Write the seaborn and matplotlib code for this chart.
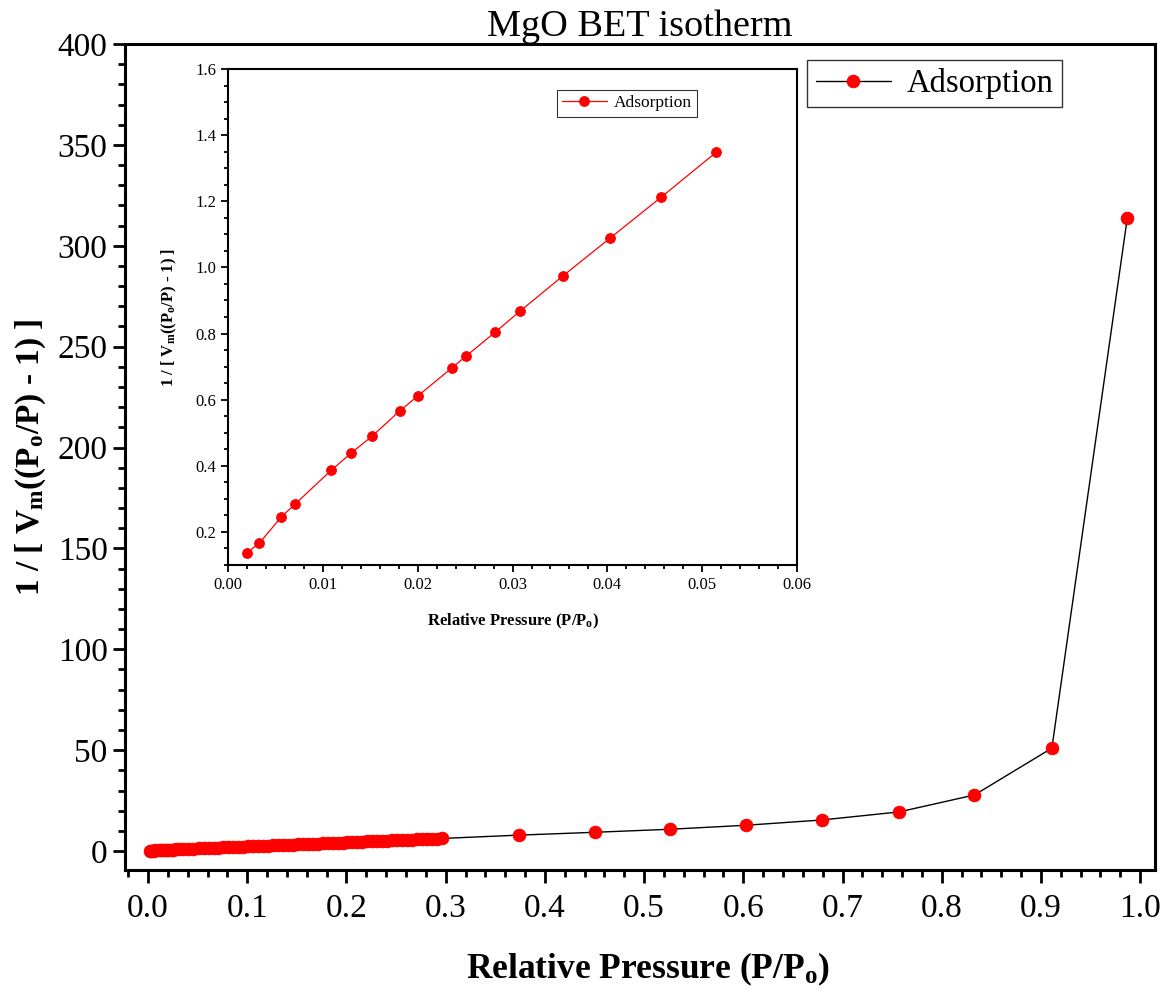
import matplotlib
matplotlib.use("Agg")
import matplotlib.pyplot as plt
import seaborn as sns
import pandas as pd
from matplotlib.ticker import MultipleLocator, FormatStrFormatter

# ---------------- data ----------------
inset_x = [0.0020, 0.0033, 0.0056, 0.0071, 0.0109, 0.0130, 0.0152, 0.0181, 0.0200,
           0.0236, 0.0251, 0.0282, 0.0308, 0.0353, 0.0403, 0.0457, 0.0515]
inset_y = [0.137, 0.166, 0.245, 0.285, 0.387, 0.439, 0.490, 0.566, 0.611,
           0.696, 0.732, 0.805, 0.868, 0.974, 1.089, 1.213, 1.349]

dense_x = [0.056, 0.061, 0.066, 0.071, 0.076, 0.081, 0.086, 0.091, 0.096, 0.101,
           0.106, 0.111, 0.116, 0.121, 0.126, 0.131, 0.136, 0.141, 0.146, 0.151,
           0.156, 0.161, 0.166, 0.171, 0.176, 0.181, 0.186, 0.191, 0.196, 0.201,
           0.206, 0.211, 0.216, 0.221, 0.226, 0.231, 0.236, 0.241, 0.246, 0.251,
           0.256, 0.261, 0.266, 0.271, 0.276, 0.281, 0.286, 0.291, 0.296]
dense_y = [1.44, 1.54, 1.64, 1.74, 1.84, 1.94, 2.04, 2.14, 2.24, 2.34,
           2.44, 2.54, 2.64, 2.74, 2.84, 2.94, 3.04, 3.14, 3.24, 3.34,
           3.44, 3.54, 3.64, 3.74, 3.84, 3.94, 4.04, 4.14, 4.24, 4.34,
           4.44, 4.54, 4.64, 4.74, 4.84, 4.94, 5.04, 5.14, 5.24, 5.34,
           5.44, 5.54, 5.64, 5.74, 5.84, 5.94, 6.04, 6.14, 6.24]

high_x = [0.374, 0.450, 0.526, 0.603, 0.679, 0.757, 0.833, 0.911, 0.987]
high_y = [7.9, 9.3, 10.8, 12.8, 15.4, 19.4, 27.8, 51.0, 313.7]

main_x = inset_x + dense_x + high_x
main_y = inset_y + dense_y + high_y

main_df = pd.DataFrame({"x": main_x, "y": main_y})
inset_df = pd.DataFrame({"x": inset_x, "y": inset_y})

# ---------------- style ----------------
sns.set_style("ticks")
plt.rcParams["font.family"] = ["Liberation Serif", "DejaVu Serif"]
plt.rcParams["mathtext.fontset"] = "custom"
plt.rcParams["mathtext.rm"] = "Liberation Serif"
plt.rcParams["mathtext.bf"] = "Liberation Serif:bold"
plt.rcParams["mathtext.it"] = "Liberation Serif:italic"
for k in ["text.color", "axes.labelcolor", "xtick.color", "ytick.color", "axes.edgecolor"]:
    plt.rcParams[k] = "black"

fig = plt.figure(figsize=(11.73, 9.89), dpi=100)
ax = fig.add_axes([0.1066, 0.1203, 0.8781, 0.8352])

sns.lineplot(data=main_df, x="x", y="y", ax=ax, sort=False, color="black",
             linewidth=1.0, marker="o", markersize=9, markerfacecolor="red",
             markeredgecolor="red", label="Adsorption")

ax.set_xlim(-0.0232, 1.015)
ax.set_ylim(-9.4, 400)
ax.xaxis.set_major_locator(MultipleLocator(0.1))
ax.xaxis.set_minor_locator(MultipleLocator(0.02))
ax.yaxis.set_major_locator(MultipleLocator(50))
ax.yaxis.set_minor_locator(MultipleLocator(10))
ax.xaxis.set_major_formatter(FormatStrFormatter("%.1f"))
ax.tick_params(which="major", direction="out", length=9, width=2, labelsize=24)
ax.tick_params(which="minor", direction="out", length=5, width=2)
ax.tick_params(axis="x", pad=8)
for s in ax.spines.values():
    s.set_linewidth(2.2)
    s.set_visible(True)

ax.set_xlabel(r"Relative Pressure (P/P$_\mathbf{o}$)", fontsize=25.5, fontweight="bold")
ax.xaxis.set_label_coords(0.508, -0.097)
ax.set_ylabel(r"1 / [ V$_\mathbf{m}$((P$_\mathbf{o}$/P) - 1) ]", fontsize=24, fontweight="bold", labelpad=7)
ax.set_title("MgO BET isotherm", fontsize=27.5, pad=3)

leg = ax.legend(loc="upper right", bbox_to_anchor=(0.9097, 0.9806), fontsize=23.5,
                frameon=True, fancybox=False, edgecolor="black", handlelength=2.3,
                borderpad=0.25, handletextpad=0.5, borderaxespad=0)
leg.get_frame().set_linewidth(1.0)
leg.set_zorder(20)

# ---------------- inset ----------------
ins = fig.add_axes([0.1944, 0.4287, 0.4851, 0.5015])
ins.patch.set_visible(False)
sns.lineplot(data=inset_df, x="x", y="y", ax=ins, sort=False, color="red",
             linewidth=0.9, marker="o", markersize=7, markerfacecolor="red",
             markeredgecolor="red", label="Adsorption")
ins.set_xlim(0, 0.06)
ins.set_ylim(0.1, 1.6)
ins.xaxis.set_major_locator(MultipleLocator(0.01))
ins.xaxis.set_minor_locator(MultipleLocator(0.002))
ins.yaxis.set_major_locator(MultipleLocator(0.2))
ins.yaxis.set_minor_locator(MultipleLocator(0.05))
ins.xaxis.set_major_formatter(FormatStrFormatter("%.2f"))
ins.yaxis.set_major_formatter(FormatStrFormatter("%.1f"))
ins.tick_params(which="major", direction="out", length=5, width=1.3, labelsize=12)
ins.tick_params(which="minor", direction="out", length=3, width=1.3)
for s in ins.spines.values():
    s.set_linewidth(1.5)
    s.set_visible(True)
ins.set_xlabel(r"Relative Pressure (P/P$_\mathbf{o}$)", fontsize=12, fontweight="bold", labelpad=14)
ins.set_ylabel(r"1 / [ V$_\mathbf{m}$((P$_\mathbf{o}$/P) - 1) ]", fontsize=12, fontweight="bold", labelpad=12)
ileg = ins.legend(loc="upper right", bbox_to_anchor=(0.84, 0.975), fontsize=12.5,
                  frameon=True, fancybox=False, edgecolor="black", handlelength=2.6,
                  borderpad=0.3, handletextpad=0.4)
ileg.get_frame().set_linewidth(0.8)

fig.savefig("out.png", dpi=100)
